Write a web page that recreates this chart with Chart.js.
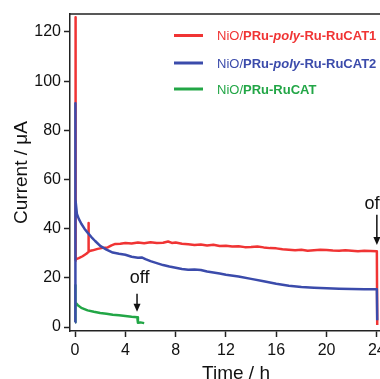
<!DOCTYPE html>
<html><head><meta charset="utf-8">
<script src="https://cdn.jsdelivr.net/npm/chart.js@4.4.1/dist/chart.umd.min.js"></script>
<style>
html,body{margin:0;padding:0;overflow:hidden;background:#fff;width:380px;height:379px}
#wrap{position:absolute;left:0;top:0;width:410px;height:379px}
</style></head><body>
<div id="wrap"><canvas id="c"></canvas></div>
<script>
// ---- data (time in h, current in µA) ----
const seriesNames = ["NiO/PRu-poly-Ru-RuCAT1", "NiO/PRu-poly-Ru-RuCAT2", "NiO/PRu-RuCAT"];

const timeCAT1 = [0, 0.02, 0.07, 0.3, 0.6, 0.9, 1.05, 1.07, 1.09, 1.4, 1.8, 2.2, 2.6, 2.9, 3.2, 3.6, 4, 4.5, 5, 5.5, 6, 6.5, 7, 7.4, 7.7, 8, 8.5, 9, 9.5, 10, 10.5, 11, 11.5, 12, 12.5, 13, 13.5, 14, 14.5, 15, 15.5, 16, 16.5, 17, 17.5, 18, 18.5, 19, 19.5, 20, 20.5, 21, 21.5, 22, 22.5, 23, 23.5, 24, 24.03];
const currentCAT1 = [27, 126, 27.5, 28, 28.8, 29.8, 30.5, 42.3, 30.8, 31.2, 31.8, 32.2, 32.4, 33.2, 33.8, 33.9, 34.2, 34.0, 34.4, 34.1, 34.5, 34.2, 34.3, 34.8, 34.2, 34.4, 33.9, 33.7, 33.4, 33.6, 33.2, 33.5, 33.0, 33.1, 32.8, 32.9, 32.5, 32.6, 32.8, 32.4, 32.1, 32.0, 31.6, 31.4, 31.2, 31.4, 31.0, 31.2, 31.4, 31.3, 31.1, 31.0, 31.2, 31.0, 30.8, 31.0, 30.9, 30.8, 0.8];

const timeCAT2 = [0, 0.01, 0.05, 0.15, 0.3, 0.5, 0.75, 1, 1.3, 1.6, 2, 2.5, 3, 3.5, 4, 4.5, 5, 5.3, 5.6, 6, 6.5, 7, 7.5, 8, 8.5, 9, 9.5, 10, 10.5, 11, 11.5, 12, 13, 14, 15, 16, 17, 18, 19, 20, 21, 22, 23, 24, 24.03];
const currentCAT2 = [2, 91, 52, 46, 44, 42, 40, 38.4, 36.6, 35, 33, 31.5, 30.3, 29.8, 29.4, 28.6, 28.2, 28.3, 27.6, 26.8, 26, 25.2, 24.6, 24.1, 23.6, 23.3, 23.4, 23.2, 22.6, 22.2, 21.8, 21.3, 20.6, 19.6, 18.6, 17.6, 16.8, 16.3, 16.0, 15.8, 15.6, 15.5, 15.4, 15.4, 2.8];

const timeCAT = [0, 0.01, 0.05, 0.2, 0.5, 1, 1.5, 2, 2.5, 3, 3.5, 4, 4.5, 4.95, 5.0, 5.2, 5.5];
const currentCAT = [2, 17, 10, 9, 7.8, 6.8, 6.2, 5.7, 5.4, 5.0, 4.8, 4.5, 4.2, 4.0, 1.8, 1.9, 1.6];

const xTicks = [0, 4, 8, 12, 16, 20, 24];
const yTicks = [0, 20, 40, 60, 80, 100, 120];

// "off" markers: time, arrow top, arrow tip, label x, label baseline (µA)
const offTimes = [4.93, 24.0];
const offArrowTop = [13.5, 45.7];
const offArrowTip = [6.2, 33.4];
const offLabelX = [5.13, 23.8];
const offLabelY = [17.9, 48.0];
const offLabel = "off";

// ---- styles ----
const colors = ["#f03434", "#3b4bab", "#22a646"];
const FONT = '"Liberation Sans", Arial, Helvetica, sans-serif';

function pts(t, v) { return t.map((x, i) => ({ x: x, y: v[i] })); }

const framePlugin = {
  id: 'frame',
  afterDraw(chart) {
    const { ctx, chartArea: a } = chart;
    ctx.save();
    ctx.strokeStyle = '#222';
    ctx.lineWidth = 1.5;
    ctx.beginPath();
    ctx.moveTo(a.left, a.top); ctx.lineTo(a.right, a.top); ctx.lineTo(a.right, a.bottom);
    ctx.stroke();
    ctx.restore();
  }
};

const legendPlugin = {
  id: 'customLegend',
  afterDraw(chart) {
    const ctx = chart.ctx;
    const ys = [35.5, 63, 89];
    ctx.save();
    seriesNames.forEach((name, i) => {
      const y = ys[i];
      ctx.strokeStyle = colors[i];
      ctx.lineWidth = 3;
      ctx.beginPath(); ctx.moveTo(174, y); ctx.lineTo(203, y); ctx.stroke();
      const segs = [];
      const m = name.match(/^(NiO\/)(.*)$/);
      segs.push([m[1], 'normal 13px ' + FONT]);
      m[2].split(/(poly)/).forEach(s => { if (s) segs.push([s, (s === 'poly' ? 'italic bold 13px ' : 'bold 13px ') + FONT]); });
      let x = 217;
      ctx.fillStyle = colors[i];
      ctx.textBaseline = 'alphabetic';
      ctx.textAlign = 'left';
      segs.forEach(([s, f]) => { ctx.font = f; ctx.fillText(s, x, y + 4.5); x += ctx.measureText(s).width; });
    });
    ctx.restore();
  }
};

const offPlugin = {
  id: 'offMarks',
  afterDraw(chart) {
    const ctx = chart.ctx, xs = chart.scales.x, ys = chart.scales.y;
    ctx.save();
    offTimes.forEach((t, i) => {
      const x = xs.getPixelForValue(t);
      const y0 = ys.getPixelForValue(offArrowTop[i]);
      const y1 = ys.getPixelForValue(offArrowTip[i]);
      ctx.strokeStyle = '#111'; ctx.fillStyle = '#111'; ctx.lineWidth = 1.5;
      ctx.beginPath(); ctx.moveTo(x, y0); ctx.lineTo(x, y1 - 6); ctx.stroke();
      ctx.beginPath(); ctx.moveTo(x - 3.5, y1 - 8); ctx.lineTo(x + 3.5, y1 - 8); ctx.lineTo(x, y1); ctx.closePath(); ctx.fill();
      ctx.font = '18px ' + FONT; ctx.textAlign = 'center'; ctx.textBaseline = 'alphabetic';
      ctx.fillText(offLabel, xs.getPixelForValue(offLabelX[i]), ys.getPixelForValue(offLabelY[i]));
    });
    ctx.restore();
  }
};

new Chart(document.getElementById('c'), {
  type: 'scatter',
  data: {
    datasets: [
      { label: seriesNames[0], data: pts(timeCAT1, currentCAT1), borderColor: colors[0], backgroundColor: colors[0], showLine: true, borderWidth: 2.5, pointRadius: 0, order: 1 },
      { label: seriesNames[1], data: pts(timeCAT2, currentCAT2), borderColor: colors[1], backgroundColor: colors[1], showLine: true, borderWidth: 2.5, pointRadius: 0, order: 0 },
      { label: seriesNames[2], data: pts(timeCAT, currentCAT), borderColor: colors[2], backgroundColor: colors[2], showLine: true, borderWidth: 2.5, pointRadius: 0, order: 2 }
    ]
  },
  options: {
    responsive: true, maintainAspectRatio: false, animation: false, devicePixelRatio: 1,
    layout: { padding: { top: 14, right: 8, left: 0, bottom: 0 } },
    plugins: { legend: { display: false }, tooltip: { enabled: false } },
    elements: { line: { tension: 0, borderJoinStyle: 'round' } },
    scales: {
      x: {
        type: 'linear', min: -0.4, max: 26,
        afterBuildTicks: s => { s.ticks = xTicks.map(v => ({ value: v })); },
        ticks: { color: '#111', font: { family: FONT, size: 16 }, padding: 4, maxRotation: 0, autoSkip: false, callback: v => String(v) },
        grid: { drawOnChartArea: false, drawTicks: true, tickLength: 6, tickColor: '#222', tickWidth: 1.5 },
        border: { display: true, color: '#222', width: 1.5 },
        title: { display: true, text: 'Time / h', color: '#111', font: { family: FONT, size: 19 }, padding: { top: 0, bottom: -6 } },
        afterFit: s => { s.height = 48; }
      },
      y: {
        type: 'linear', min: -1.6, max: 127.3,
        afterBuildTicks: s => { s.ticks = yTicks.map(v => ({ value: v })); },
        ticks: { color: '#111', font: { family: FONT, size: 16 }, padding: 3, autoSkip: false, callback: v => String(v) },
        grid: { drawOnChartArea: false, drawTicks: true, tickLength: 6, tickColor: '#222', tickWidth: 1.5 },
        border: { display: true, color: '#222', width: 1.5 },
        title: { display: true, text: 'Current / μA', color: '#111', font: { family: FONT, size: 19 }, padding: { top: 10, bottom: 0 } },
        afterFit: s => { s.width = 70; }
      }
    }
  },
  plugins: [framePlugin, legendPlugin, offPlugin]
});
</script>
</body></html>
